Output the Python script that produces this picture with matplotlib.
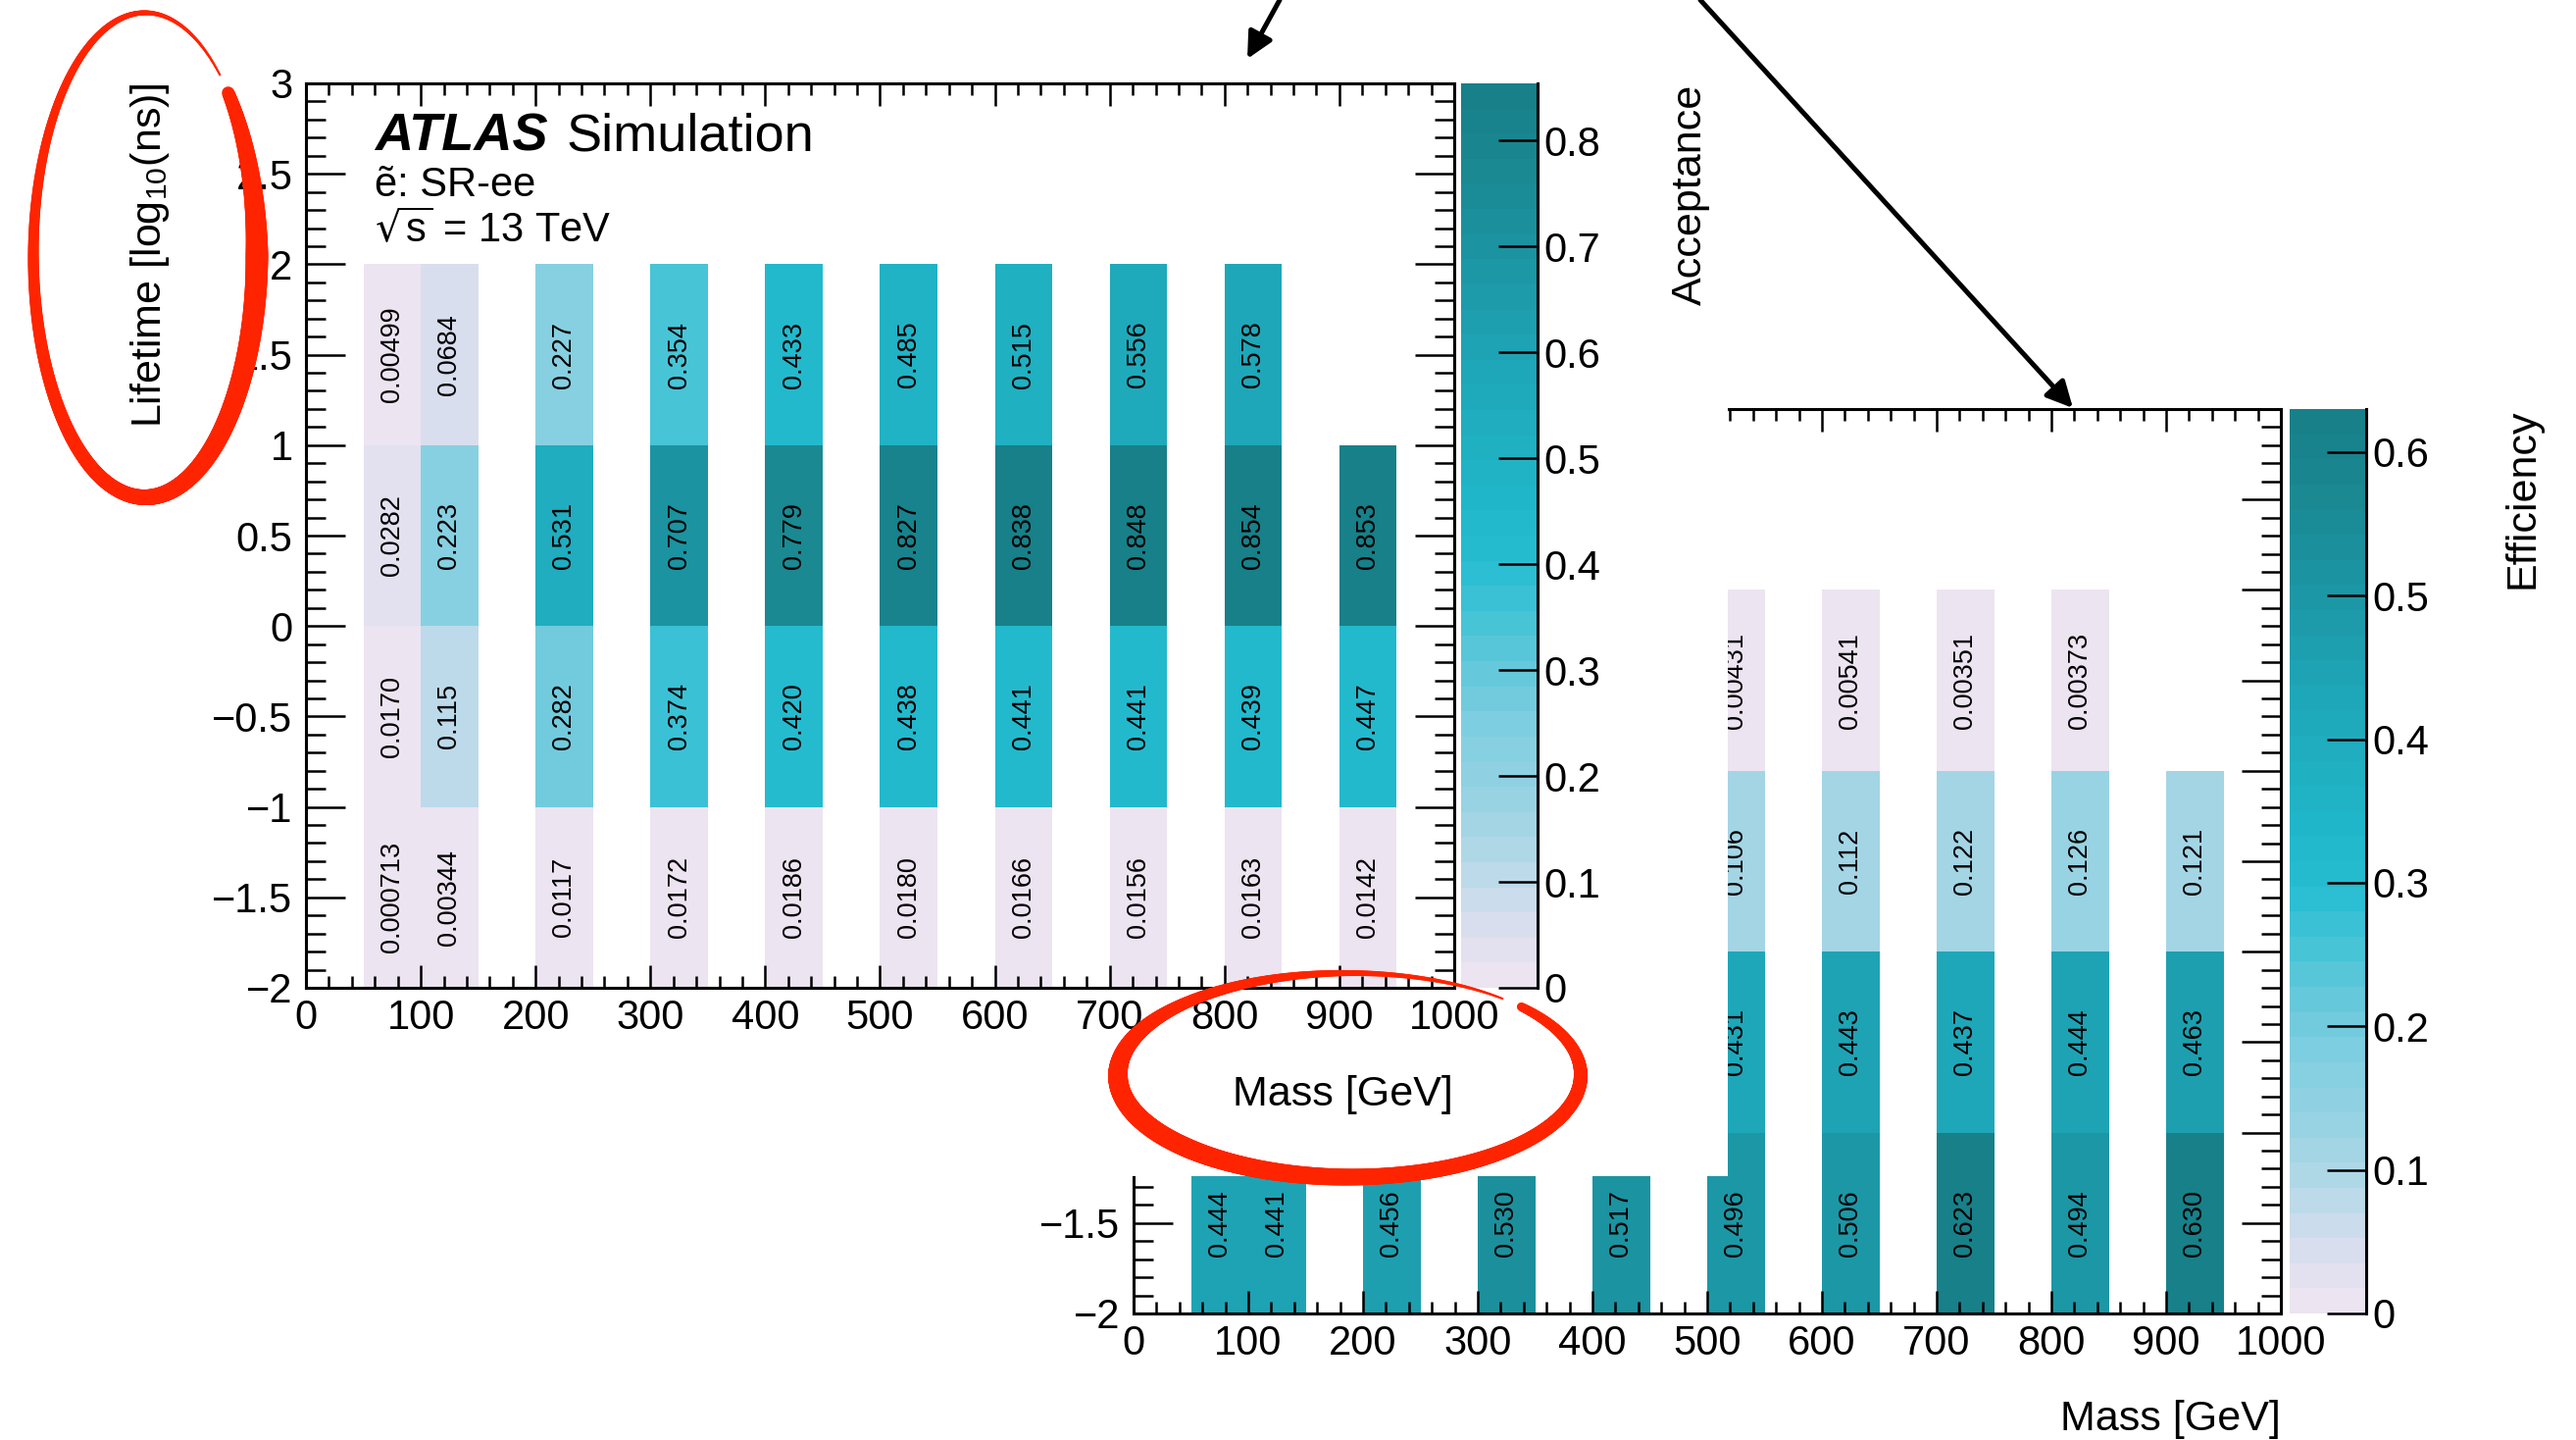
import numpy as np
import matplotlib
matplotlib.use('Agg')
import matplotlib.pyplot as plt
from matplotlib.colors import LinearSegmentedColormap, Normalize
from matplotlib.collections import LineCollection
from matplotlib.patches import Rectangle, FancyArrowPatch
from matplotlib.ticker import MultipleLocator, FuncFormatter

plt.rcParams['font.family'] = ['Liberation Sans', 'DejaVu Sans']
plt.rcParams['mathtext.default'] = 'regular'

W, H = 2627, 1468
DPI = 100
PX_PER_PT = DPI / 72.0

# left edge of each mass bin [GeV], bins are 50 GeV wide
masses = [50, 100, 200, 300, 400, 500, 600, 700, 800, 900]
mass_bin_width = 50
# lifetime bins in log10(ns): [-2,-1], [-1,0], [0,1], [1,2]
lifetime_edges = [-2, -1, 0, 1, 2]

# acceptance, one list per lifetime bin
acc_lt_m2 = [0.000713, 0.00344, 0.0117, 0.0172, 0.0186, 0.0180, 0.0166, 0.0156, 0.0163, 0.0142]
acc_lt_m1 = [0.0170, 0.115, 0.282, 0.374, 0.420, 0.438, 0.441, 0.441, 0.439, 0.447]
acc_lt_0 = [0.0282, 0.223, 0.531, 0.707, 0.779, 0.827, 0.838, 0.848, 0.854, 0.853]
acc_lt_1 = [0.00499, 0.0684, 0.227, 0.354, 0.433, 0.485, 0.515, 0.556, 0.578, None]

# efficiency, one list per lifetime bin
eff_lt_m2 = [0.444, 0.441, 0.456, 0.530, 0.517, 0.496, 0.506, 0.623, 0.494, 0.630]
eff_lt_m1 = [None, None, None, None, None, 0.431, 0.443, 0.437, 0.444, 0.463]
eff_lt_0 = [None, None, None, None, None, 0.106, 0.112, 0.122, 0.126, 0.121]
eff_lt_1 = [None, None, None, None, None, 0.00431, 0.00541, 0.00351, 0.00373, None]

palette = LinearSegmentedColormap.from_list('lavender_teal', [
    (0.00, '#ece4f1'), (0.05, '#dcdfee'), (0.10, '#c4dbeb'), (0.15, '#abd7e6'),
    (0.20, '#98d3e3'), (0.27, '#83cfe1'), (0.33, '#6ccadc'), (0.40, '#48c4d7'),
    (0.47, '#26bdd1'), (0.52, '#21b8cc'), (0.60, '#1fb0c2'), (0.70, '#1ea5b6'),
    (0.80, '#1c97a6'), (0.90, '#1a8a94'), (1.00, '#178089')], N=36)

RED = '#ff2400'

fig = plt.figure(figsize=(W / DPI, H / DPI), dpi=DPI)
fig.patch.set_facecolor('white')


def px_axes(left, top, right, bottom, **kw):
    return fig.add_axes([left / W, 1 - bottom / H, (right - left) / W, (bottom - top) / H], **kw)


def num_fmt(v, pos=None):
    return f'{v:g}'.replace('-', '\u2212')


def build_grid(rows):
    xedges = np.arange(0, 1001, mass_bin_width)
    yedges = np.array(lifetime_edges, dtype=float)
    z = np.full((len(yedges) - 1, len(xedges) - 1), np.nan)
    for iy, row in enumerate(rows):
        for m, v in zip(masses, row):
            if v is None:
                continue
            z[iy, m // mass_bin_width] = v
    return xedges, yedges, np.ma.masked_invalid(z)


def draw_panel(box, cbox, rows, zorder):
    ax = px_axes(*box, zorder=zorder)
    xedges, yedges, z = build_grid(rows)
    mesh = ax.pcolormesh(xedges, yedges, z, cmap=palette, norm=Normalize(0, z.max()))
    for iy, row in enumerate(rows):
        yc = 0.5 * (yedges[iy] + yedges[iy + 1])
        for m, v in zip(masses, row):
            if v is None:
                continue
            ax.text(m + mass_bin_width / 2, yc, f'{v:#.3g}', rotation=90,
                    ha='center', va='center', fontsize=19.5, color='black')
    ax.set_xlim(0, 1000)
    ax.set_ylim(-2, 3)
    ax.xaxis.set_major_locator(MultipleLocator(100))
    ax.xaxis.set_minor_locator(MultipleLocator(20))
    ax.yaxis.set_major_locator(MultipleLocator(0.5))
    ax.yaxis.set_minor_locator(MultipleLocator(0.1))
    ax.xaxis.set_major_formatter(FuncFormatter(num_fmt))
    ax.yaxis.set_major_formatter(FuncFormatter(num_fmt))
    ax.tick_params(which='both', direction='in', top=True, right=True, width=1.8, labelsize=30)
    ax.tick_params(axis='x', which='major', length=16.5, pad=8)
    ax.tick_params(axis='x', which='minor', length=8.3)
    ax.tick_params(axis='y', which='major', length=29, pad=9.7)
    ax.tick_params(axis='y', which='minor', length=14.5)
    for sp in ax.spines.values():
        sp.set_linewidth(2.2)

    cax = px_axes(*cbox, zorder=zorder)
    cb = fig.colorbar(mesh, cax=cax)
    cb.outline.set_visible(False)
    cax.yaxis.set_major_locator(MultipleLocator(0.1))
    cax.yaxis.set_major_formatter(FuncFormatter(num_fmt))
    cax.minorticks_off()
    cax.tick_params(axis='y', direction='in', length=29, width=1.8, labelsize=30,
                    pad=4.3, right=True, left=False)
    cax.plot([1, 1], [0, 1], transform=cax.transAxes, color='black', lw=2.2, clip_on=False)
    return ax


# efficiency panel sits underneath; only its lowest lifetime labels stay uncovered
eff_ax = draw_panel((1156, 417, 2326, 1339), (2335, 417, 2413, 1339),
                    [eff_lt_m2, eff_lt_m1, eff_lt_0, eff_lt_1], zorder=0)
eff_ax.yaxis.set_major_formatter(FuncFormatter(lambda v, p: num_fmt(v) if v < -1.25 else ''))

# white backing of the acceptance panel
fig.add_artist(Rectangle((0, 1 - 1199 / H), 1762 / W, 1199 / H, transform=fig.transFigure,
                         facecolor='white', edgecolor='none', zorder=1))

# acceptance panel on top
draw_panel((312, 85, 1483, 1007), (1490, 85, 1568, 1007),
           [acc_lt_m2, acc_lt_m1, acc_lt_0, acc_lt_1], zorder=2)

# overlay in pixel coordinates for titles, arrows and markings
ov = fig.add_axes([0, 0, 1, 1], zorder=10)
ov.set_xlim(0, W)
ov.set_ylim(H, 0)
ov.axis('off')

ov.text(382, 154, 'ATLAS', fontsize=39, fontweight='bold', fontstyle='italic', va='baseline')
ov.text(578, 154, 'Simulation', fontsize=39, va='baseline')
ov.text(382, 200, 'ẽ: SR-ee', fontsize=30, va='baseline')
ov.text(382, 247, r'$\sqrt{s}$ = 13 TeV', fontsize=30, va='baseline')

ov.text(164, 84, r'Lifetime [log$_{10}$(ns)]', fontsize=31, rotation=90,
        ha='right', va='baseline', rotation_mode='anchor')
ov.text(1735, 86, 'Acceptance', fontsize=31, rotation=90,
        ha='right', va='baseline', rotation_mode='anchor')
ov.text(1482, 1127, 'Mass [GeV]', fontsize=31, ha='right', va='baseline')
ov.text(2583, 416, 'Efficiency', fontsize=31, rotation=90,
        ha='right', va='baseline', rotation_mode='anchor')
ov.text(2326, 1458, 'Mass [GeV]', fontsize=31, ha='right', va='baseline')

for start, end in [((1305, 0), (1272, 60)), ((1734, 0), (2114, 416))]:
    ov.add_patch(FancyArrowPatch(start, end, arrowstyle='-|>,head_length=1.6,head_width=0.8',
                                 mutation_scale=10, lw=3.6, color='black',
                                 shrinkA=0, shrinkB=0, zorder=15))


def brush_ellipse(cx, cy, a, b, t_start, t_end, knot_t, knot_w):
    t = np.radians(np.linspace(t_start, t_end, 700))
    x = cx + a * np.cos(t)
    y = cy - b * np.sin(t)
    pts = np.column_stack([x, y]).reshape(-1, 1, 2)
    segs = np.concatenate([pts[:-1], pts[1:]], axis=1)
    tm = np.degrees(0.5 * (t[:-1] + t[1:]))
    w = np.interp(tm, knot_t, knot_w)
    ov.add_collection(LineCollection(segs, linewidths=w / PX_PER_PT, colors=RED,
                                     capstyle='round', zorder=20))


brush_ellipse(148, 260, 114, 247, 42, -312,
              [-312, -270, -180, -90, 0, 42], [2, 5, 11, 16, 23, 13])
brush_ellipse(1376, 1096, 236, 104, 42, -311.5,
              [-311.5, -270, -225, -180, -135, -90, -45, 0, 42],
              [2, 6, 12, 20, 20, 17, 15, 14, 9])

fig.savefig('out.png', dpi=DPI, facecolor='white')
